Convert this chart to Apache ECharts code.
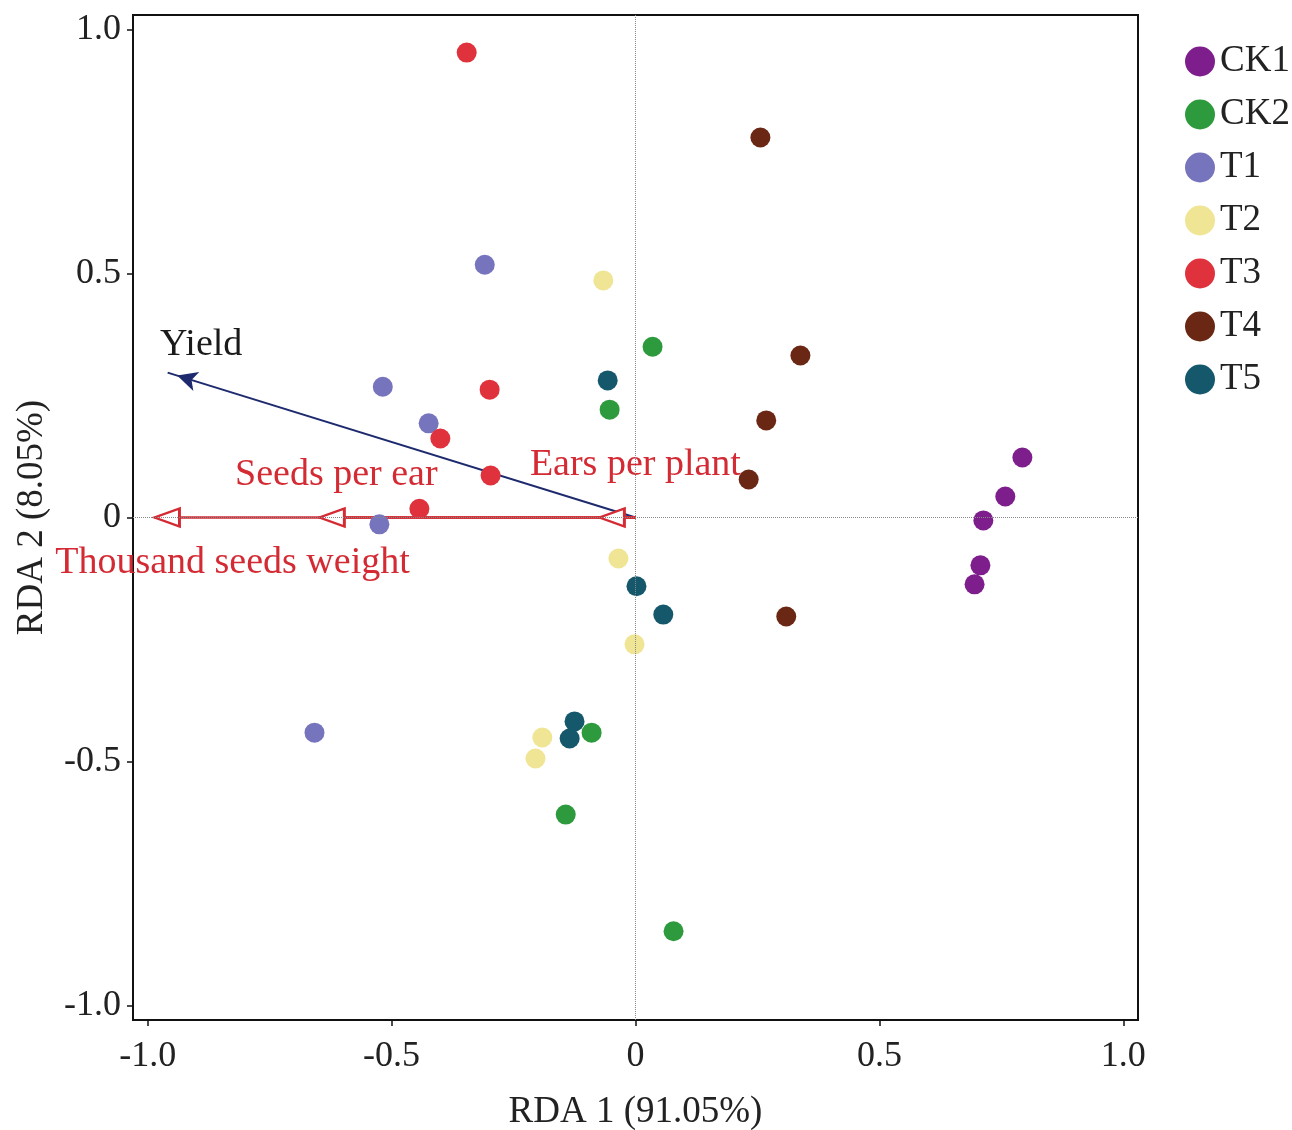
<!DOCTYPE html>
<html>
<head>
<meta charset="utf-8">
<script src="https://cdn.jsdelivr.net/npm/echarts@6/dist/echarts.min.js"></script>
<style>
  html, body { margin: 0; padding: 0; background: #fff; }
  #chart { width: 1292px; height: 1130px; }
</style>
</head>
<body>
<div id="chart"></div>
<script>
// sample scores, [RDA1, RDA2]
const groups = ['CK1', 'CK2', 'T1', 'T2', 'T3', 'T4', 'T5'];
const ck1 = [[0.793, 0.123], [0.758, 0.043], [0.713, -0.006], [0.707, -0.098], [0.695, -0.137]];
const ck2 = [[0.035, 0.350], [-0.053, 0.221], [-0.090, -0.441], [-0.143, -0.609], [0.078, -0.848]];
const t1 = [[-0.309, 0.518], [-0.518, 0.268], [-0.424, 0.193], [-0.525, -0.014], [-0.658, -0.441]];
const t2 = [[-0.066, 0.486], [-0.035, -0.084], [-0.002, -0.260], [-0.191, -0.451], [-0.205, -0.494]];
const t3 = [[-0.346, 0.953], [-0.299, 0.262], [-0.400, 0.162], [-0.297, 0.086], [-0.443, 0.018]];
const t4 = [[0.256, 0.779], [0.338, 0.332], [0.268, 0.199], [0.232, 0.078], [0.309, -0.203]];
const t5 = [[-0.057, 0.281], [0.002, -0.141], [0.057, -0.199], [-0.125, -0.418], [-0.135, -0.453]];
const sampleData = [ck1, ck2, t1, t2, t3, t4, t5];

// explanatory variables (arrow tips)
const envNames = ['Yield', 'Seeds per ear', 'Ears per plant', 'Thousand seeds weight'];
const envX = [-0.959, -0.648, -0.074, -0.986];
const envY = [0.297, 0, 0, 0];

const tickValues = [-1, -0.5, 0, 0.5, 1];

const colors = ['#7e1e8c', '#2e9a3e', '#7774be', '#efe594', '#e0323c', '#6a2814', '#15586b'];
const yieldColor = '#1e2a6e';
const redColor = '#d42a33';
const font = "'Liberation Serif', 'Times New Roman', serif";

// label offsets relative to each arrow tip
const labelOffsets = [[24, -31], [17, -42], [36, -52], [78, 46]];

let chart = echarts.init(document.getElementById('chart'));

let fmt = v => (v === 0 ? '0' : v.toFixed(1));

let arrowLines = {
    type: 'lines',
    coordinateSystem: 'cartesian2d',
    silent: true,
    z: 2,
    data: envNames.map((n, i) => ({
        coords: [[0, 0], [envX[i], envY[i]]],
        lineStyle: { color: i === 0 ? yieldColor : redColor, width: i === 0 ? 2 : 2.5, opacity: 1 }
    }))
};

let arrowHeads = {
    type: 'scatter',
    silent: true,
    z: 3,
    itemStyle: { opacity: 1 },
    data: envNames.map((n, i) => {
        let x = envX[i], y = envY[i];
        let len = Math.sqrt(x * x + y * y);
        let ang = Math.atan2(y, x) * 180 / Math.PI;
        let L = i === 0 ? 20 : 25;
        let off = [-x / len * L / 2, y / len * L / 2];
        return {
            value: [x, y],
            name: n,
            symbol: i === 0 ? 'arrow' : 'triangle',
            symbolSize: i === 0 ? [15, 20] : [18, 25],
            symbolRotate: ang - 90,
            symbolOffset: off,
            itemStyle: i === 0
                ? { color: yieldColor, opacity: 1 }
                : { color: '#fff', borderColor: redColor, borderWidth: 2.5, opacity: 1 },
            label: {
                show: true,
                formatter: n,
                position: 'inside',
                offset: [labelOffsets[i][0] - off[0], labelOffsets[i][1] - off[1]],
                fontFamily: font,
                fontSize: 38,
                opacity: 1,
                color: i === 0 ? '#1a1a1a' : redColor
            }
        };
    })
};

let sampleSeries = groups.map((g, i) => ({
    name: g,
    type: 'scatter',
    z: 4,
    symbolSize: 20,
    itemStyle: { color: colors[i], opacity: 1 },
    data: sampleData[i]
}));

// dotted zero lines
sampleSeries[0].markLine = {
    silent: true,
    symbol: 'none',
    label: { show: false },
    lineStyle: { color: '#888', type: 'dotted', width: 1 },
    data: [{ xAxis: 0 }, { yAxis: 0 }]
};

let options = {
    animation: false,
    backgroundColor: '#fff',
    grid: {
        left: 133, top: 15, right: 154, bottom: 110,
        outerBoundsMode: 'none',
        show: true, borderColor: '#111', borderWidth: 2, backgroundColor: 'transparent'
    },
    legend: {
        orient: 'vertical',
        left: 1180,
        top: 38,
        icon: 'circle',
        itemWidth: 30,
        itemHeight: 30,
        itemGap: 16,
        data: groups,
        textStyle: { fontFamily: font, fontSize: 37, color: '#222' }
    },
    xAxis: {
        type: 'value',
        min: -1.03,
        max: 1.03,
        name: 'RDA 1 (91.05%)',
        nameLocation: 'middle',
        nameGap: 74,
        nameTextStyle: { fontFamily: font, fontSize: 37, color: '#222' },
        axisLine: { onZero: false, lineStyle: { color: '#111', width: 2 } },
        axisTick: { show: true, customValues: tickValues, length: 6, lineStyle: { color: '#111', width: 1.5 } },
        axisLabel: { customValues: tickValues, formatter: fmt, margin: 19, fontFamily: font, fontSize: 36, color: '#222' },
        splitLine: { show: false }
    },
    yAxis: {
        type: 'value',
        min: -1.03,
        max: 1.03,
        name: 'RDA 2 (8.05%)',
        nameLocation: 'middle',
        nameGap: 82,
        nameTextStyle: { fontFamily: font, fontSize: 37, color: '#222' },
        axisLine: { onZero: false, lineStyle: { color: '#111', width: 2 } },
        axisTick: { show: true, customValues: tickValues, length: 6, lineStyle: { color: '#111', width: 1.5 } },
        axisLabel: { customValues: tickValues, formatter: fmt, margin: 12, padding: [10, 0, 0, 0], fontFamily: font, fontSize: 36, color: '#222' },
        splitLine: { show: false }
    },
    series: [arrowLines, arrowHeads].concat(sampleSeries)
};

chart.setOption(options);
</script>
</body>
</html>
